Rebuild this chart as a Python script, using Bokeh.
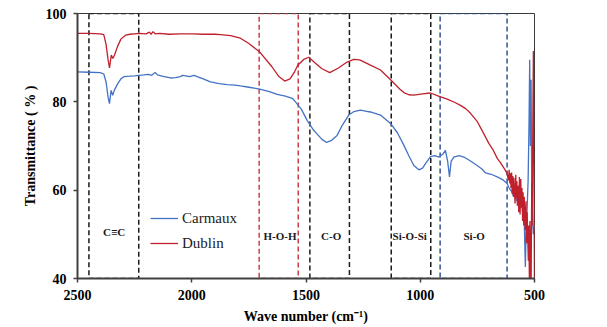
from bokeh.plotting import figure
from bokeh.models import Range1d, FixedTicker, Legend, LegendItem
from bokeh.core.properties import value
from bokeh.embed import file_html
from bokeh.resources import INLINE

# FTIR spectra: wave number (cm-1) and transmittance (%)
carmaux_wn = [2500, 2450, 2400, 2385, 2375, 2366, 2360, 2353, 2346, 2339, 2325, 2310, 2297,
              2270, 2250, 2232, 2210, 2190, 2175, 2165, 2159, 2150, 2130, 2110, 2093, 2070,
              2050, 2040, 2027, 2010, 1990, 1976, 1950, 1918, 1880, 1845, 1810, 1787, 1750,
              1703, 1660, 1626, 1590, 1560, 1546, 1520, 1495, 1470, 1453, 1430, 1410, 1390,
              1364, 1340, 1313, 1290, 1262, 1240, 1218, 1174, 1130, 1100, 1072, 1050, 1028,
              1006, 990, 977, 955, 935, 919, 900, 890, 880, 872, 865, 853, 830, 809, 780,
              751, 730, 714, 690, 663, 640, 620, 612, 605, 598, 592, 585, 578, 570, 563,
              556, 550, 545, 540, 537, 533, 528, 524, 521, 518, 515, 512, 508, 505, 500]
carmaux_tr = [86.8, 86.7, 86.6, 86.3, 84.5, 81.0, 79.6, 82.6, 81.5, 82.6, 84.0, 85.2, 85.7,
              85.8, 85.9, 86.0, 86.1, 86.2, 86.0, 86.5, 86.6, 86.1, 85.8, 85.6, 85.4, 85.5,
              85.7, 86.0, 85.9, 85.7, 86.0, 85.7, 85.2, 84.5, 84.1, 83.9, 83.8, 83.6, 83.3,
              82.9, 82.3, 81.7, 81.3, 80.8, 80.0, 78.3, 75.8, 73.8, 72.8, 71.5, 70.8, 71.2,
              72.4, 74.8, 77.0, 77.8, 78.1, 77.9, 77.7, 77.0, 75.1, 73.0, 70.2, 67.8, 65.6,
              64.6, 65.0, 66.0, 67.6, 67.8, 67.5, 68.2, 69.0, 66.5, 63.0, 66.5, 67.5, 67.8,
              67.5, 66.6, 65.6, 64.8, 63.9, 63.6, 63.0, 62.4, 61.5, 60.6, 60.0, 59.6, 58.6,
              59.1, 57.6, 58.1, 56.0, 57.5, 54.0, 53.4, 42.6, 50.0, 55.0, 62.0, 75.0, 89.5,
              70.0, 85.0, 60.0, 53.0, 50.0, 52.0]

dublin_wn = [2500, 2450, 2400, 2385, 2375, 2366, 2360, 2352, 2345, 2338, 2325, 2310, 2290,
             2270, 2250, 2230, 2200, 2185, 2178, 2170, 2160, 2140, 2100, 2050, 2000, 1950,
             1900, 1874, 1830, 1787, 1750, 1703, 1650, 1620, 1593, 1570, 1550, 1536, 1510,
             1488, 1460, 1430, 1396, 1360, 1320, 1291, 1265, 1218, 1174, 1130, 1090, 1072,
             1050, 1028, 990, 955, 920, 882, 850, 824, 800, 780, 750, 722, 700, 680, 663,
             650, 640, 630, 620, 614, 611, 608, 605, 603, 600, 598, 595, 592, 590, 588,
             585, 582, 580, 577, 575, 572, 569, 566, 563, 560, 558, 555, 552, 550, 547,
             545, 542, 540, 537, 535, 532, 530, 527, 525, 522, 520, 517, 515, 512, 510,
             508, 505, 502, 500]
dublin_tr = [95.5, 95.5, 95.4, 95.2, 93.0, 89.5, 87.7, 90.6, 89.8, 90.6, 92.5, 94.2, 95.1,
             95.3, 95.4, 95.5, 95.4, 95.8, 95.3, 95.9, 95.4, 95.5, 95.3, 95.4, 95.4, 95.3,
             95.3, 95.2, 95.0, 94.4, 93.2, 91.3, 88.0, 85.8, 84.7, 85.2, 86.8, 88.3, 89.6,
             90.1, 88.8, 87.5, 86.6, 87.6, 89.0, 89.6, 89.5, 88.3, 87.2, 85.0, 82.9, 82.1,
             81.6, 81.5, 81.8, 82.0, 81.3, 80.6, 79.9, 79.2, 78.4, 77.4, 75.5, 72.8, 70.6,
             69.0, 67.2, 66.3, 65.5, 64.7, 63.8, 62.2, 64.6, 61.5, 63.8, 60.5, 64.0, 59.2,
             63.2, 58.5, 62.8, 60.0, 57.0, 63.5, 58.2, 62.0, 56.5, 61.0, 55.0, 63.0, 54.5,
             62.5, 56.0, 60.5, 53.0, 59.5, 52.0, 58.5, 54.0, 51.0, 57.5, 48.0, 55.0, 50.0,
             44.0, 52.0, 38.0, 53.0, 45.0, 38.0, 62.0, 52.0, 70.0, 91.5, 60.0, 38.0]

# Absorption bands marked on the spectrum
band_labels = ["C\u2261C", "H-O-H", "C-O", "Si-O-Si", "Si-O"]
band_start = [2450, 1705, 1483, 1127, 913]
band_end = [2232, 1534, 1310, 954, 620]
band_label_wn = [2340, 1614, 1390, 1046, 764]
band_label_tr = [50.5, 49.6, 49.6, 49.6, 49.6]
band_colors = ["#1a1a1a", "#C8404A", "#1a1a1a", "#1a1a1a", "#2F5597"]

x_ticks = [2500, 2000, 1500, 1000, 500]
y_ticks = [40, 60, 80, 100]

BLUE = "#4472C4"
RED = "#C0202C"
SERIF = "Liberation Serif"

p = figure(width=607, height=327, output_backend="svg", toolbar_location=None,
           x_range=Range1d(2500, 500), y_range=Range1d(40, 100),
           min_border_left=77, min_border_right=73, min_border_top=13, min_border_bottom=49)
p.background_fill_color = "white"
p.border_fill_color = "white"
p.outline_line_color = "#3a3a3a"
p.outline_line_width = 1
p.xgrid.visible = False
p.ygrid.visible = False

for ax in (p.xaxis[0], p.yaxis[0]):
    ax.axis_line_color = "#404040"
    ax.axis_line_width = 2
    ax.major_tick_line_color = "#404040"
    ax.major_tick_line_width = 1.5
    ax.major_tick_out = 4
    ax.major_tick_in = 0
    ax.minor_tick_line_color = None
    ax.major_label_text_font = SERIF
    ax.major_label_text_font_style = "bold"
    ax.major_label_text_font_size = "14px"
    ax.major_label_text_color = "black"
    ax.axis_label_text_font = SERIF
    ax.axis_label_text_font_style = "bold"
    ax.axis_label_text_font_size = "14px"
    ax.axis_label_text_color = "black"

p.xaxis.ticker = FixedTicker(ticks=x_ticks)
p.yaxis.ticker = FixedTicker(ticks=y_ticks)
p.xaxis.major_label_standoff = 7
p.yaxis.major_label_standoff = 7
p.xaxis.axis_label = "Wave number (cm\u207b\u00b9)"
p.yaxis.axis_label = "Transmittance ( % )"
p.xaxis.axis_label_standoff = 6
p.yaxis.axis_label_standoff = 5

# Dashed band boxes spanning the full transmittance range
p.quad(left=band_start, right=band_end, top=[100] * len(band_start), bottom=[40] * len(band_start),
       fill_alpha=0, line_color=band_colors, line_width=1.5, line_dash="5 3")

r_car = p.line(carmaux_wn, carmaux_tr, line_color=BLUE, line_width=1.3)
r_dub = p.line(dublin_wn, dublin_tr, line_color=RED, line_width=1.3)

p.text(x=band_label_wn, y=band_label_tr, text=band_labels, text_font=value(SERIF),
       text_font_style="bold", text_font_size="11px", text_color="#1a1a1a",
       text_align="center", text_baseline="middle")

legend = Legend(items=[LegendItem(label="Carmaux", renderers=[r_car]),
                       LegendItem(label="Dublin", renderers=[r_dub])],
                location=(73, 25), orientation="vertical")
legend.background_fill_alpha = 0
legend.border_line_color = None
legend.padding = 0
legend.margin = 0
legend.spacing = 5
legend.glyph_width = 28
legend.glyph_height = 20
legend.label_height = 20
legend.label_standoff = 4
legend.label_text_font = SERIF
legend.label_text_font_size = "15px"
legend.label_text_color = "#222222"
p.add_layout(legend, "center")

open("out.html", "w").write(file_html(p, INLINE))
